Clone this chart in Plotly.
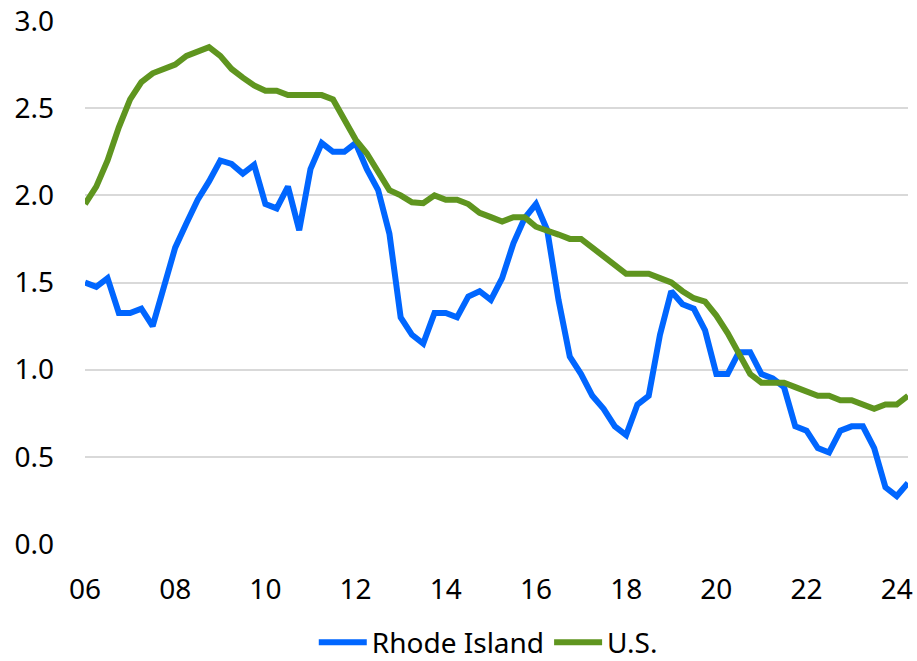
import plotly.graph_objects as go

# Quarterly periods 2006Q1 .. 2024Q2
years = list(range(2006, 2025))
quarters = [f"{y}Q{q}" for y in years for q in range(1, 5)][:74]

rhode_island = [1.50, 1.475, 1.525, 1.325, 1.325, 1.35, 1.25, 1.475, 1.70, 1.84,
                1.975, 2.08, 2.20, 2.18, 2.125, 2.175, 1.95, 1.925, 2.05, 1.80,
                2.15, 2.30, 2.25, 2.25, 2.30, 2.15, 2.03, 1.78, 1.30, 1.20,
                1.15, 1.325, 1.325, 1.30, 1.42, 1.45, 1.40, 1.525, 1.725, 1.87,
                1.95, 1.80, 1.40, 1.075, 0.975, 0.85, 0.775, 0.675, 0.625, 0.80,
                0.85, 1.20, 1.45, 1.375, 1.35, 1.225, 0.975, 0.975, 1.10, 1.10,
                0.975, 0.95, 0.90, 0.675, 0.65, 0.55, 0.525, 0.65, 0.675, 0.675,
                0.55, 0.325, 0.275, 0.35]

us = [1.95, 2.05, 2.20, 2.39, 2.55, 2.65, 2.70, 2.725, 2.75, 2.80,
      2.825, 2.85, 2.80, 2.725, 2.675, 2.63, 2.60, 2.60, 2.575, 2.575,
      2.575, 2.575, 2.55, 2.43, 2.32, 2.24, 2.13, 2.03, 2.0, 1.96,
      1.955, 2.0, 1.975, 1.975, 1.95, 1.90, 1.875, 1.85, 1.875, 1.875,
      1.82, 1.80, 1.775, 1.75, 1.75, 1.70, 1.65, 1.60, 1.55, 1.55,
      1.55, 1.525, 1.50, 1.45, 1.41, 1.39, 1.31, 1.21, 1.10, 0.975,
      0.925, 0.925, 0.925, 0.90, 0.875, 0.85, 0.85, 0.825, 0.825, 0.80,
      0.775, 0.80, 0.80, 0.85]

tick_years = list(range(2006, 2025, 2))
tick_labels = ["06", "08", "10", "12", "14", "16", "18", "20", "22", "24"]
y_ticks = [0.0, 0.5, 1.0, 1.5, 2.0, 2.5, 3.0]

# position of each quarter on a continuous year axis
x = [int(p[:4]) + (int(p[-1]) - 1) / 4 for p in quarters]

fig = go.Figure()
fig.add_trace(go.Scatter(x=x, y=rhode_island, mode="lines", name="Rhode Island",
                         line=dict(color="#0066FF", width=6)))
fig.add_trace(go.Scatter(x=x, y=us, mode="lines", name="U.S.",
                         line=dict(color="#5F951F", width=6)))

font_family = "Noto Sans"
fig.update_layout(
    width=917, height=661,
    margin=dict(l=85, r=9, t=21, b=117, autoexpand=False),
    plot_bgcolor="white", paper_bgcolor="white",
    font=dict(family=font_family, size=28, color="#000000"),
    showlegend=True,
    legend=dict(orientation="h", x=0.49, xanchor="center",
                yref="container", y=0.028, yanchor="middle",
                font=dict(size=28), itemwidth=48, tracegroupgap=0,
                bgcolor="rgba(0,0,0,0)"),
    xaxis=dict(range=[2006, 2024.25], tickvals=tick_years, ticktext=tick_labels,
               showgrid=False, zeroline=False, showline=False, ticks="",
               ticklabelstandoff=26, automargin=False),
    yaxis=dict(range=[0, 3.0], tickvals=y_ticks, tickformat=".1f",
               showgrid=True, gridcolor="#D9D9D9", gridwidth=1.5,
               zeroline=False, showline=False, ticks="", ticklabelstandoff=30,
               automargin=False),
)

fig.write_html("out.html", config={"displayModeBar": False},
               post_script="document.body.style.margin='0';document.body.style.overflow='hidden';")
